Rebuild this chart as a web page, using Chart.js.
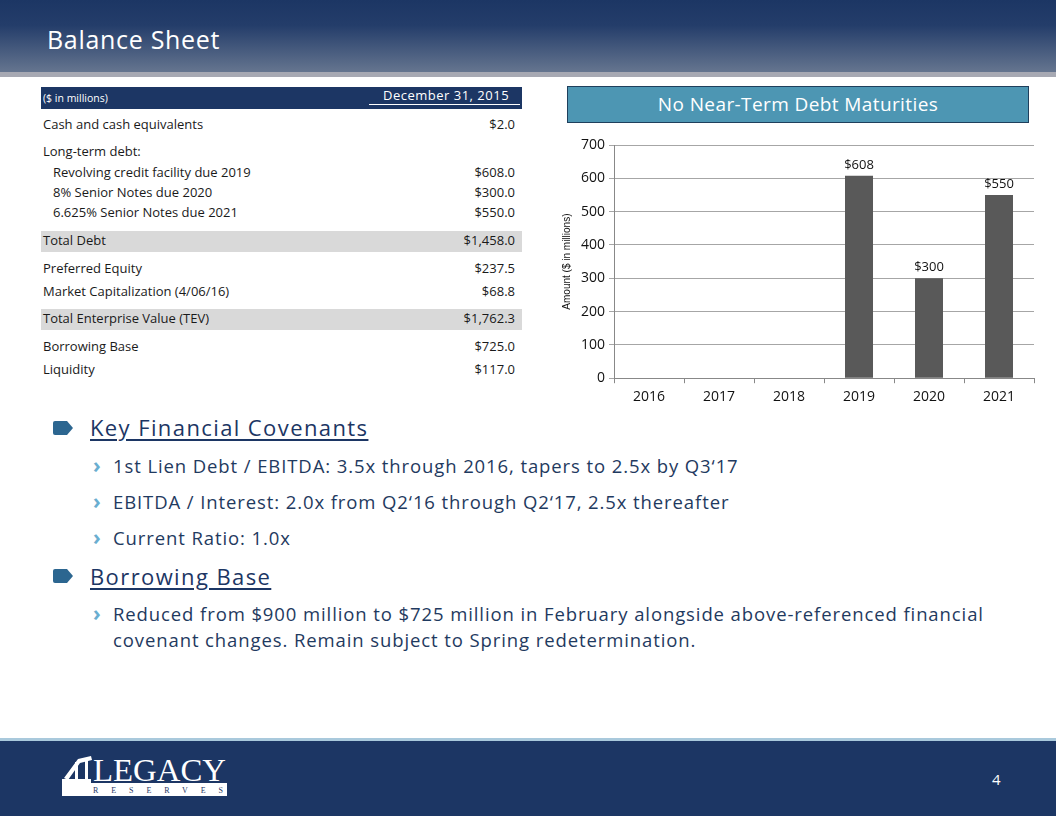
<!DOCTYPE html>
<html><head><meta charset="utf-8">
<script src="https://cdn.jsdelivr.net/npm/chart.js@4.4.0/dist/chart.umd.min.js"></script>
<style>
html,body{margin:0;padding:0;}
body{width:1056px;height:816px;position:relative;overflow:hidden;background:#fff;font-family:"Open Sans",sans-serif;}
#hdr{position:absolute;left:0;top:0;width:1056px;height:72px;background:linear-gradient(#1c3664 0%,#243d6a 35%,#65758f 100%);}
#hdrb{position:absolute;left:0;top:72px;width:1056px;height:5px;background:#a7a9b3;}
#title{position:absolute;left:47px;top:22px;color:#fff;font-size:25px;letter-spacing:0.7px;}
.t{position:absolute;font-size:13px;color:#1a1a1a;white-space:nowrap;line-height:16px;}
.r{text-align:right;right:541px;}
.band{position:absolute;left:41px;width:481px;height:21px;background:#d9d9d9;}
#th{position:absolute;left:41px;top:87px;width:481px;height:22px;background:#1c3664;}
#ctitle{position:absolute;left:567px;top:86px;width:460px;height:35px;background:#4d96b3;border:1px solid #1f3f5c;color:#fff;font-size:19px;text-align:center;line-height:35px;letter-spacing:0.4px;}
#cw{position:absolute;left:552px;top:132px;width:496px;height:282px;}
.b1{position:absolute;left:90px;font-size:22px;letter-spacing:1.4px;color:#1c3664;text-decoration:underline;text-decoration-thickness:1.5px;text-underline-offset:3px;white-space:nowrap;}
.tag{position:absolute;left:53px;width:20px;height:14px;background:#2c6690;clip-path:polygon(0 0,70% 0,100% 50%,70% 100%,0 100%);border-radius:2px;}
.b2{position:absolute;left:113px;font-size:18.5px;letter-spacing:0.9px;color:#1f3a60;white-space:nowrap;line-height:26px;}
.chev{position:absolute;left:93px;font-size:21px;font-weight:bold;color:#6aaed0;line-height:26px;}
#ftl{position:absolute;left:0;top:738px;width:1056px;height:3px;background:#a9c9dc;}
#ft{position:absolute;left:0;top:741px;width:1056px;height:75px;background:#1c3664;}
</style></head><body>
<div id="hdr"></div><div id="hdrb"></div>
<div id="title">Balance Sheet</div>

<div id="th"></div>
<div class="t" style="left:43px;top:90px;color:#fff;font-size:10.5px;">($ in millions)</div>
<div class="t" style="left:383px;top:87px;color:#fff;font-size:13px;letter-spacing:0.5px;">December 31, 2015</div>
<div style="position:absolute;left:369px;top:104px;width:151px;height:1px;background:#fff;"></div>
<div class="band" style="top:231px;"></div>
<div class="band" style="top:309px;"></div>
<div id="rows"></div>

<div id="ctitle">No Near-Term Debt Maturities</div>
<div id="cw"><canvas id="c" width="496" height="282"></canvas></div>

<div class="tag" style="top:421px;"></div>
<div class="b1" style="top:412px;">Key Financial Covenants</div>
<div class="chev" style="top:452px;">›</div>
<div class="b2" style="top:453px;">1st Lien Debt / EBITDA: 3.5x through 2016, tapers to 2.5x by Q3‘17</div>
<div class="chev" style="top:488px;">›</div>
<div class="b2" style="top:489px;">EBITDA / Interest: 2.0x from Q2‘16 through Q2‘17, 2.5x thereafter</div>
<div class="chev" style="top:524px;">›</div>
<div class="b2" style="top:525px;">Current Ratio: 1.0x</div>
<div class="tag" style="top:569px;"></div>
<div class="b1" style="top:561px;">Borrowing Base</div>
<div class="chev" style="top:600px;">›</div>
<div class="b2" style="top:601px;">Reduced from $900 million to $725 million in February alongside above-referenced financial<br>covenant changes. Remain subject to Spring redetermination.</div>

<div id="ftl"></div><div id="ft"></div>
<svg style="position:absolute;left:60px;top:752px;" width="172" height="46">
  <g fill="#fff">
    <polygon points="4,26 18,7 31,4 32,8 20,11 8,28"/>
    <rect x="15" y="10" width="3" height="22"/>
    <rect x="2" y="27" width="29" height="4"/>
    <rect x="25" y="6" width="3" height="25"/>
  </g>
  <text x="33" y="29" fill="#fff" font-family="Liberation Serif,serif" font-size="31" textLength="133" lengthAdjust="spacingAndGlyphs">LEGACY</text>
  <rect x="2" y="31" width="165" height="13" fill="#fff"/>
  <text x="33" y="41" fill="#1c3664" font-family="Liberation Serif,serif" font-size="8" textLength="130" lengthAdjust="spacing">RESERVES</text>
</svg>
<div style="position:absolute;left:992px;top:769px;color:#fff;font-size:15px;">4</div>

<script>
const tableLabels=["Cash and cash equivalents","Long-term debt:","Revolving credit facility due 2019","8% Senior Notes due 2020","6.625% Senior Notes due 2021","Total Debt","Preferred Equity","Market Capitalization (4/06/16)","Total Enterprise Value (TEV)","Borrowing Base","Liquidity"];
const tableValues=["$2.0","","$608.0","$300.0","$550.0","$1,458.0","$237.5","$68.8","$1,762.3","$725.0","$117.0"];
const rowTops=[116,143,164,184,204,232,260,283,310,338,361];
const rowIndent=[0,0,1,1,1,0,0,0,0,0,0];

const years=["2016","2017","2018","2019","2020","2021"];
const amounts=[0,0,0,608,300,550];
const amountLabels=["","","","$608","$300","$550"];
const yTicks=[0,100,200,300,400,500,600,700];

const rows=document.getElementById('rows');
tableLabels.forEach((l,i)=>{
  const a=document.createElement('div');a.className='t';a.style.left=(43+rowIndent[i]*10)+'px';a.style.top=rowTops[i]+'px';a.textContent=l;rows.appendChild(a);
  if(tableValues[i]){const b=document.createElement('div');b.className='t r';b.style.top=rowTops[i]+'px';b.textContent=tableValues[i];rows.appendChild(b);}
});

const labelPlugin={id:'lbl',afterDatasetsDraw(chart){
  const ctx=chart.ctx;const meta=chart.getDatasetMeta(0);
  ctx.save();ctx.font='13px "Open Sans"';ctx.fillStyle='#111';ctx.textAlign='center';ctx.textBaseline='bottom';
  meta.data.forEach((el,i)=>{if(amountLabels[i])ctx.fillText(amountLabels[i],el.x,el.y-4);});
  ctx.restore();
}};

new Chart(document.getElementById('c'),{
  type:'bar',
  data:{labels:years,datasets:[{data:amounts,backgroundColor:'#595959',barPercentage:0.4,categoryPercentage:1}]},
  options:{responsive:false,animation:false,
    layout:{padding:{top:13,right:14,left:5,bottom:4}},
    plugins:{legend:{display:false},tooltip:{enabled:false}},
    scales:{
      x:{grid:{display:true,drawOnChartArea:false,color:'#888',tickLength:5,offset:true},border:{color:'#888'},
         ticks:{color:'#111',font:{size:14,family:'Open Sans'},padding:5}},
      y:{min:0,max:700,afterBuildTicks(ax){ax.ticks=yTicks.map(v=>({value:v}));},
         grid:{color:'#a6a6a6',tickLength:5},border:{color:'#888'},
         ticks:{color:'#111',font:{size:14,family:'Open Sans'},padding:4},
         title:{display:true,text:'Amount ($ in millions)',font:{size:10,family:'Liberation Sans'},color:'#111',padding:4}}
    }},
  plugins:[labelPlugin]
});
</script>
</body></html>
